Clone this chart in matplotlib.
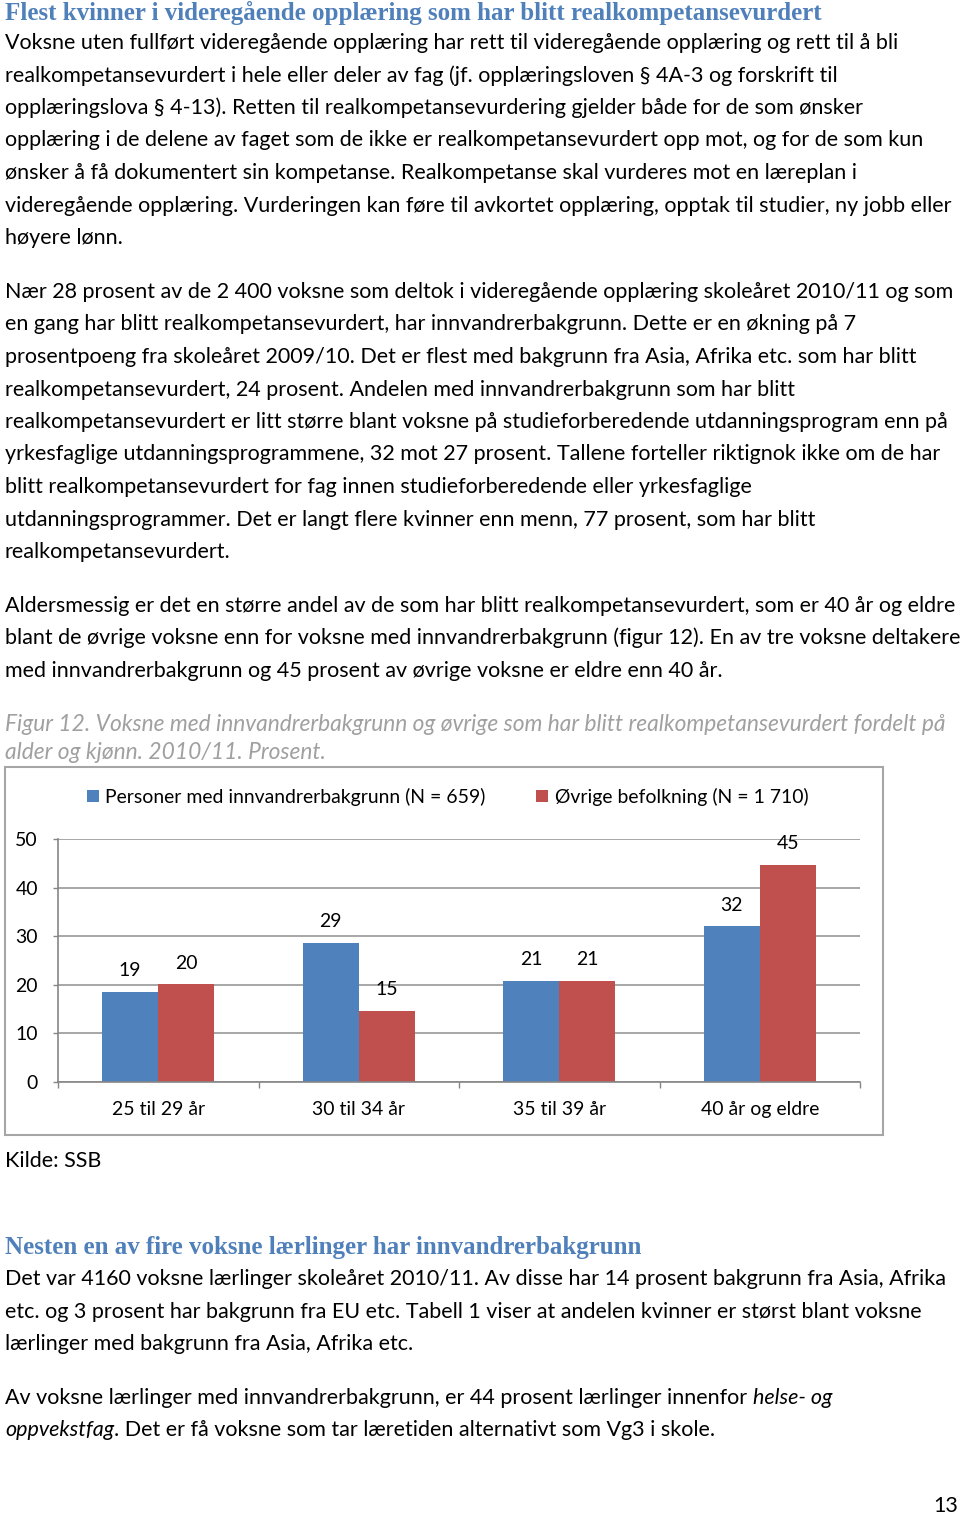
import matplotlib
matplotlib.use("Agg")
import matplotlib.pyplot as plt
import numpy as np
from matplotlib.patches import Rectangle

# chart data (figur 12)
kategorier = ["25 til 29 år", "30 til 34 år", "35 til 39 år", "40 år og eldre"]
innvandrer = [18.6, 28.7, 20.8, 32.0]
ovrige = [20.1, 14.7, 20.8, 44.6]
serier = ["Personer med innvandrerbakgrunn (N = 659)", "Øvrige befolkning (N = 1 710)"]

overskrift1 = "Flest kvinner i videregående opplæring som har blitt realkompetansevurdert"
avsnitt1 = [
    "Voksne uten fullført videregående opplæring har rett til videregående opplæring og rett til å bli",
    "realkompetansevurdert i hele eller deler av fag (jf. opplæringsloven § 4A-3 og forskrift til",
    "opplæringslova § 4-13). Retten til realkompetansevurdering gjelder både for de som ønsker",
    "opplæring i de delene av faget som de ikke er realkompetansevurdert opp mot, og for de som kun",
    "ønsker å få dokumentert sin kompetanse. Realkompetanse skal vurderes mot en læreplan i",
    "videregående opplæring. Vurderingen kan føre til avkortet opplæring, opptak til studier, ny jobb eller",
    "høyere lønn.",
]
avsnitt2 = [
    "Nær 28 prosent av de 2 400 voksne som deltok i videregående opplæring skoleåret 2010/11 og som",
    "en gang har blitt realkompetansevurdert, har innvandrerbakgrunn. Dette er en økning på 7",
    "prosentpoeng fra skoleåret 2009/10. Det er flest med bakgrunn fra Asia, Afrika etc. som har blitt",
    "realkompetansevurdert, 24 prosent. Andelen med innvandrerbakgrunn som har blitt",
    "realkompetansevurdert er litt større blant voksne på studieforberedende utdanningsprogram enn på",
    "yrkesfaglige utdanningsprogrammene, 32 mot 27 prosent. Tallene forteller riktignok ikke om de har",
    "blitt realkompetansevurdert for fag innen studieforberedende eller yrkesfaglige",
    "utdanningsprogrammer. Det er langt flere kvinner enn menn, 77 prosent, som har blitt",
    "realkompetansevurdert.",
]
avsnitt3 = [
    "Aldersmessig er det en større andel av de som har blitt realkompetansevurdert, som er 40 år og eldre",
    "blant de øvrige voksne enn for voksne med innvandrerbakgrunn (figur 12). En av tre voksne deltakere",
    "med innvandrerbakgrunn og 45 prosent av øvrige voksne er eldre enn 40 år.",
]
figurtekst = [
    "Figur 12. Voksne med innvandrerbakgrunn og øvrige som har blitt realkompetansevurdert fordelt på",
    "alder og kjønn. 2010/11. Prosent.",
]
overskrift2 = "Nesten en av fire voksne lærlinger har innvandrerbakgrunn"
avsnitt4 = [
    "Det var 4160 voksne lærlinger skoleåret 2010/11. Av disse har 14 prosent bakgrunn fra Asia, Afrika",
    "etc. og 3 prosent har bakgrunn fra EU etc. Tabell 1 viser at andelen kvinner er størst blant voksne",
    "lærlinger med bakgrunn fra Asia, Afrika etc.",
]

W, H = 960, 1515
BODY = "Lato"
HEAD = "Liberation Serif"
BLA = "#4F81BD"
ROD = "#C0504D"
HODEFARGE = "#5080BA"

fig = plt.figure(figsize=(W / 100, H / 100), dpi=100)
r = fig.canvas.get_renderer()


def bredde(s, size, **kw):
    t = fig.text(0, 0, s, fontsize=size, **kw)
    w = t.get_window_extent(r).width
    t.remove()
    return w


def tilpass(s, w, **kw):
    return 10 * w / bredde(s, 10, **kw)


fs = tilpass(avsnitt1[0], 896, family=BODY)
hs = tilpass(overskrift1, 822, family=HEAD, weight="bold")
ks = tilpass(figurtekst[0], 940, family=BODY, style="italic")
cs = tilpass(serier[0], 381, family=BODY)


def skriv(x, y, s, **kw):
    kw.setdefault("family", BODY)
    kw.setdefault("fontsize", fs)
    return fig.text(x / W, 1 - y / H, s, va="baseline", **kw)


def linjer(ys, tekster, **kw):
    for y, s in zip(ys, tekster):
        skriv(5, y, s, **kw)


step = 32.5
skriv(5, 20, overskrift1, family=HEAD, weight="bold", fontsize=hs, color=HODEFARGE)
linjer([49 + i * step for i in range(7)], avsnitt1)
linjer([298 + i * step for i in range(9)], avsnitt2)
linjer([612 + i * step for i in range(3)], avsnitt3)
linjer([731, 759], figurtekst, style="italic", color="#A0A0A0", fontsize=ks)
skriv(5, 1167, "Kilde: SSB")
skriv(5, 1254, overskrift2, family=HEAD, weight="bold", fontsize=hs, color=HODEFARGE)
linjer([1285 + i * step for i in range(3)], avsnitt4)

# mixed line with italics
mellomrom = bredde("a a", fs, family=BODY) - bredde("aa", fs, family=BODY)
t = skriv(5, 1404, "Av voksne lærlinger med innvandrerbakgrunn, er 44 prosent lærlinger innenfor")
x1 = t.get_window_extent(r).x1 + mellomrom
skriv(x1, 1404, "helse- og", style="italic")
t = skriv(5, 1436, "oppvekstfag", style="italic")
x1 = t.get_window_extent(r).x1
skriv(x1, 1436, ". Det er få voksne som tar læretiden alternativt som Vg3 i skole.")
skriv(958, 1512, "13", ha="right")

# chart frame
fig.add_artist(Rectangle((5 / W, 1 - 1135 / H), 878 / W, 368 / H, transform=fig.transFigure,
                         fill=False, edgecolor="#A6A6A6", lw=1.5))

ax = fig.add_axes([58 / W, (H - 1082) / H, 802 / W, 243 / H])
x = np.arange(len(kategorier))
b1 = ax.bar(x - 0.14, innvandrer, 0.28, color=BLA, label=serier[0])
b2 = ax.bar(x + 0.14, ovrige, 0.28, color=ROD, label=serier[1])
for xs, vals in [(x - 0.14, innvandrer), (x + 0.14, ovrige)]:
    for xi, v in zip(xs, vals):
        ax.annotate(f"{v:.0f}", (xi, v), xytext=(0, 15.3), textcoords="offset points",
                    ha="center", va="center", fontsize=cs, family=BODY)

ax.set_xlim(-0.5, 3.5)
ax.set_ylim(0, 50)
ax.set_yticks(range(0, 51, 10))
ax.set_xticks(x)
ax.set_xticklabels(kategorier, family=BODY, fontsize=cs)
ax.set_xticks(np.arange(-0.5, 4, 1), minor=True)
for lab in ax.get_yticklabels():
    lab.set_family(BODY)
    lab.set_fontsize(cs)
ax.tick_params(axis="x", which="major", length=0, pad=14)
ax.tick_params(axis="x", which="minor", length=4.3, color="#868686", width=1)
ax.tick_params(axis="y", length=3.6, pad=10.8, color="#868686", width=1)
ax.yaxis.grid(True, color="#A0A0A0", lw=1.3)
ax.set_axisbelow(True)
for s in ["top", "right"]:
    ax.spines[s].set_visible(False)
for s in ["left", "bottom"]:
    ax.spines[s].set_color("#868686")
    ax.spines[s].set_linewidth(1.2)

fig.legend([b1, b2], serier, loc="center", bbox_to_anchor=(447.5 / W, 1 - 797 / H), ncol=2,
           frameon=False, prop={"family": BODY, "size": cs}, handlelength=0.6, handleheight=0.6,
           handletextpad=0.35, columnspacing=2.6, borderpad=0)

fig.savefig("out.png", dpi=100)
